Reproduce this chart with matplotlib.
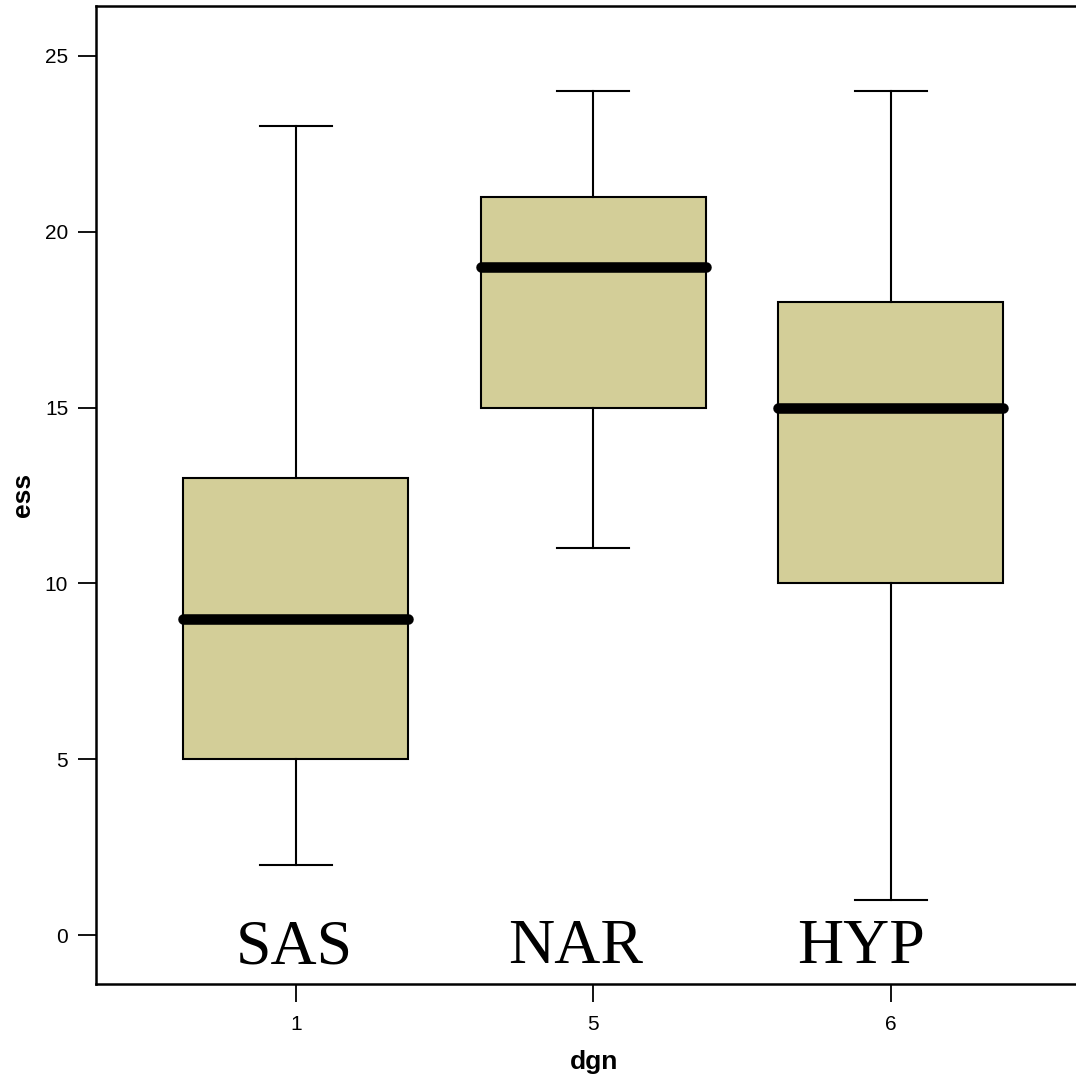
import matplotlib
matplotlib.use('Agg')
import matplotlib.pyplot as plt

# box data
groups = ['1', '5', '6']
names = ['SAS', 'NAR', 'HYP']
whislo = [2, 11, 1]
q1 = [5, 15, 10]
med = [9, 19, 15]
q3 = [13, 21, 18]
whishi = [23, 24, 24]
name_x = [-0.006, 0.94, 1.90]

stats = []
for i in range(len(groups)):
    stats.append(dict(label=groups[i], whislo=whislo[i], q1=q1[i], med=med[i],
                      q3=q3[i], whishi=whishi[i], fliers=[]))

plt.rcParams['font.family'] = ['Liberation Sans', 'DejaVu Sans']

fig = plt.figure(figsize=(10.76, 10.8), dpi=100)
ax = fig.add_axes([0.0892, 0.0889, 0.9108, 0.9055])

ax.bxp(stats, positions=range(len(groups)), widths=0.756, patch_artist=True,
       showfliers=False,
       boxprops=dict(facecolor='#d3ce98', edgecolor='black', linewidth=1.5),
       whiskerprops=dict(color='black', linewidth=1.5),
       capprops=dict(color='black', linewidth=1.5),
       capwidths=0.242,
       medianprops=dict(color='black', linewidth=7.6, solid_capstyle='round'))

for x, n in zip(name_x, names):
    ax.text(x, -0.8, n, ha='center', va='baseline', fontsize=46,
            family='Liberation Serif')

ax.set_xlim(-0.672, 2.622)
ax.set_ylim(-1.39, 26.42)
ax.set_yticks([0, 5, 10, 15, 20, 25])
ax.set_xticks(range(len(groups)))
ax.set_xticklabels(groups)
ax.tick_params(length=13, width=1.3, labelsize=15)
ax.tick_params(axis='x', pad=9)
ax.tick_params(axis='y', pad=7)
for s in ['left', 'bottom', 'top']:
    ax.spines[s].set_linewidth(1.8)
ax.spines['right'].set_visible(False)
ax.set_xlabel('dgn', fontsize=19, fontweight='bold', labelpad=12, x=0.508)
ax.set_ylabel('ess', fontsize=19, fontweight='bold', labelpad=7)

plt.savefig('out.png', dpi=100)
